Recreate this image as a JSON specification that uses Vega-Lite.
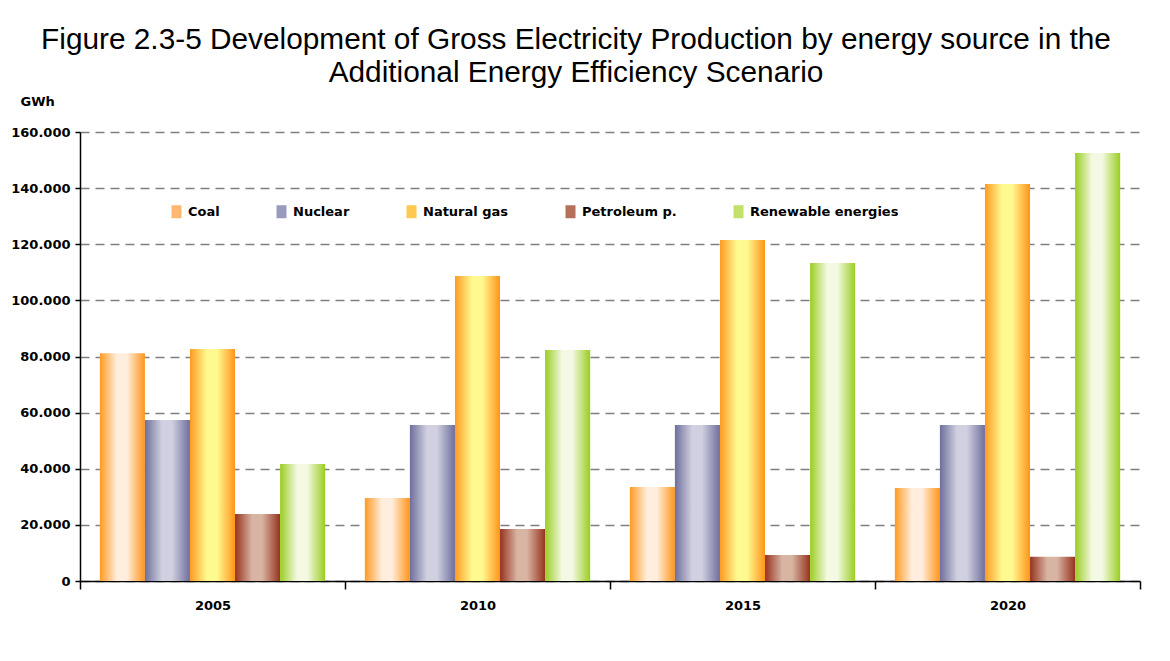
{
  "$schema": "https://vega.github.io/schema/vega-lite/v6.json",
  "width": 1060,
  "height": 449,
  "autosize": {"type": "none"},
  "padding": {"left": 80, "top": 132, "right": 30, "bottom": 80},
  "background": "white",
  "title": {
    "text": ["Figure 2.3-5 Development of Gross Electricity Production by energy source in the", "Additional Energy Efficiency Scenario"],
    "font": "Liberation Sans",
    "fontSize": 29.8,
    "fontWeight": "normal",
    "color": "black",
    "anchor": "middle",
    "frame": "group",
    "dx": -34,
    "lineHeight": 33,
    "offset": 7
  },
  "data": {
    "values": [
      {"year": "2005", "source": "Coal", "value": 81200},
      {"year": "2005", "source": "Nuclear", "value": 57400},
      {"year": "2005", "source": "Natural gas", "value": 82700},
      {"year": "2005", "source": "Petroleum p.", "value": 23900},
      {"year": "2005", "source": "Renewable energies", "value": 41700},
      {"year": "2010", "source": "Coal", "value": 29600},
      {"year": "2010", "source": "Nuclear", "value": 55600},
      {"year": "2010", "source": "Natural gas", "value": 108700},
      {"year": "2010", "source": "Petroleum p.", "value": 18500},
      {"year": "2010", "source": "Renewable energies", "value": 82300},
      {"year": "2015", "source": "Coal", "value": 33500},
      {"year": "2015", "source": "Nuclear", "value": 55600},
      {"year": "2015", "source": "Natural gas", "value": 121500},
      {"year": "2015", "source": "Petroleum p.", "value": 9300},
      {"year": "2015", "source": "Renewable energies", "value": 113300},
      {"year": "2020", "source": "Coal", "value": 33100},
      {"year": "2020", "source": "Nuclear", "value": 55600},
      {"year": "2020", "source": "Natural gas", "value": 141500},
      {"year": "2020", "source": "Petroleum p.", "value": 8600},
      {"year": "2020", "source": "Renewable energies", "value": 152500}
    ]
  },
  "encoding": {
    "x": {
      "field": "year",
      "type": "nominal",
      "scale": {"paddingInner": 0, "paddingOuter": 0},
      "axis": {
        "title": null,
        "labelAngle": 0,
        "tickBand": "extent",
        "tickSize": 8,
        "labelPadding": 10,
        "domainColor": "black",
        "domainWidth": 1.5,
        "tickColor": "black",
        "tickWidth": 1.5,
        "grid": false
      }
    },
    "xOffset": {
      "field": "source",
      "type": "nominal",
      "scale": {"domain": ["Coal", "Nuclear", "Natural gas", "Petroleum p.", "Renewable energies"], "paddingInner": 0, "paddingOuter": 0.44}
    },
    "y": {
      "field": "value",
      "type": "quantitative",
      "scale": {"domain": [0, 160000], "nice": false},
      "axis": {
        "title": "GWh",
        "titleAngle": 0,
        "titleAlign": "left",
        "titleBaseline": "alphabetic",
        "titleX": -60,
        "titleY": -27,
        "titleFont": "DejaVu Sans",
        "titleFontSize": 13,
        "titleFontWeight": "bold",
        "titleColor": "black",
        "values": [0, 20000, 40000, 60000, 80000, 100000, 120000, 140000, 160000],
        "labelExpr": "replace(format(datum.value, ','), ',', '.')",
        "tickSize": 5,
        "labelPadding": 5,
        "domainColor": "black",
        "domainWidth": 1.5,
        "tickColor": "black",
        "tickWidth": 1.5,
        "grid": true,
        "gridColor": "#808080",
        "gridDash": [9, 6],
        "gridWidth": 1.5
      }
    },
    "color": {
      "field": "source",
      "type": "nominal",
      "scale": {
        "domain": ["Coal", "Nuclear", "Natural gas", "Petroleum p.", "Renewable energies"],
        "range": ["#FFB870", "#9A9ABF", "#FFC850", "#B56F5A", "#C2E06A"]
      },
      "legend": {
        "title": null,
        "orient": "none",
        "direction": "horizontal",
        "legendX": 90,
        "legendY": 73,
        "columnPadding": 55,
        "padding": 0,
        "symbolType": "M-1,-1.3H1V1.3H-1Z",
        "symbolSize": 100,
        "symbolStrokeWidth": 0,
        "labelFont": "DejaVu Sans",
        "labelFontSize": 13,
        "labelFontWeight": "bold",
        "labelColor": "black",
        "labelOffset": 5,
        "labelLimit": 300,
        "encode": {
          "symbols": {
            "update": {
              "fill": {"signal": "datum.value === 'Coal' ? {gradient: 'linear', x1: 0, y1: 0, x2: 1, y2: 0, stops: [{offset: 0, color: '#FF9a22'}, {offset: 0.5, color: '#FFEEDD'}, {offset: 1, color: '#FF9419'}]} : datum.value === 'Nuclear' ? {gradient: 'linear', x1: 0, y1: 0, x2: 1, y2: 0, stops: [{offset: 0, color: '#6E6E9C'}, {offset: 0.5, color: '#D0D0E0'}, {offset: 1, color: '#6E6E9C'}]} : datum.value === 'Natural gas' ? {gradient: 'linear', x1: 0, y1: 0, x2: 1, y2: 0, stops: [{offset: 0, color: '#FF9a22'}, {offset: 0.5, color: '#FFFA90'}, {offset: 1, color: '#FF9419'}]} : datum.value === 'Petroleum p.' ? {gradient: 'linear', x1: 0, y1: 0, x2: 1, y2: 0, stops: [{offset: 0, color: '#96331E'}, {offset: 0.5, color: '#D8B4A2'}, {offset: 1, color: '#96331E'}]} : {gradient: 'linear', x1: 0, y1: 0, x2: 1, y2: 0, stops: [{offset: 0, color: '#9ACD22'}, {offset: 0.5, color: '#F4F9E4'}, {offset: 1, color: '#9ACD22'}]}"}
            }
          }
        }
      }
    }
  },
  "layer": [
    {
      "transform": [{"filter": "datum.source === 'Coal'"}],
      "mark": {"type": "bar", "fill": {"gradient": "linear", "x1": 0, "y1": 0, "x2": 1, "y2": 0, "stops": [{"offset": 0, "color": "#FF9a22"}, {"offset": 0.38, "color": "#FFEEDD"}, {"offset": 0.6, "color": "#FFEEDD"}, {"offset": 1, "color": "#FF9419"}]}}
    },
    {
      "transform": [{"filter": "datum.source === 'Nuclear'"}],
      "mark": {"type": "bar", "fill": {"gradient": "linear", "x1": 0, "y1": 0, "x2": 1, "y2": 0, "stops": [{"offset": 0, "color": "#6E6E9C"}, {"offset": 0.38, "color": "#D0D0E0"}, {"offset": 0.6, "color": "#D0D0E0"}, {"offset": 1, "color": "#6E6E9C"}]}}
    },
    {
      "transform": [{"filter": "datum.source === 'Natural gas'"}],
      "mark": {"type": "bar", "fill": {"gradient": "linear", "x1": 0, "y1": 0, "x2": 1, "y2": 0, "stops": [{"offset": 0, "color": "#FF9a22"}, {"offset": 0.38, "color": "#FFFA90"}, {"offset": 0.6, "color": "#FFFA90"}, {"offset": 1, "color": "#FF9419"}]}}
    },
    {
      "transform": [{"filter": "datum.source === 'Petroleum p.'"}],
      "mark": {"type": "bar", "fill": {"gradient": "linear", "x1": 0, "y1": 0, "x2": 1, "y2": 0, "stops": [{"offset": 0, "color": "#96331E"}, {"offset": 0.38, "color": "#D8B4A2"}, {"offset": 0.6, "color": "#D8B4A2"}, {"offset": 1, "color": "#96331E"}]}}
    },
    {
      "transform": [{"filter": "datum.source === 'Renewable energies'"}],
      "mark": {"type": "bar", "fill": {"gradient": "linear", "x1": 0, "y1": 0, "x2": 1, "y2": 0, "stops": [{"offset": 0, "color": "#9ACD22"}, {"offset": 0.38, "color": "#F4F9E4"}, {"offset": 0.6, "color": "#F4F9E4"}, {"offset": 1, "color": "#9ACD22"}]}}
    }
  ],
  "config": {
    "view": {"stroke": null},
    "axis": {
      "labelFont": "DejaVu Sans",
      "labelFontSize": 13,
      "labelFontWeight": "bold",
      "labelColor": "black"
    }
  }
}
